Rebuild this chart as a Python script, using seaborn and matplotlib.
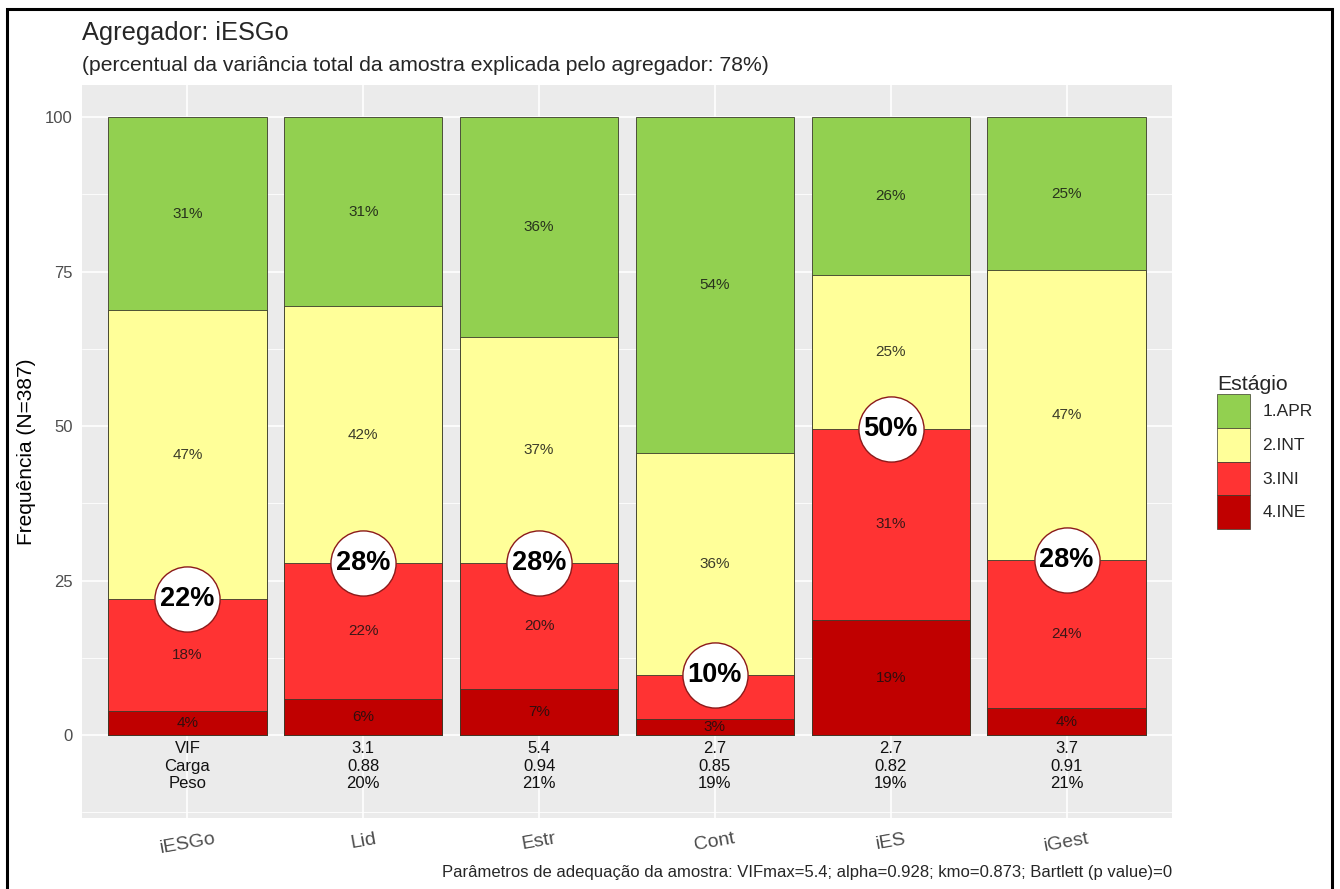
import numpy as np
import pandas as pd
import matplotlib
matplotlib.use("Agg")
import matplotlib.pyplot as plt
from matplotlib.patches import Patch, Rectangle
from matplotlib.ticker import FixedLocator
import seaborn as sns

# ---- data ----
categories = ["iESGo", "Lid", "Estr", "Cont", "iES", "iGest"]
stages = ["1.APR", "2.INT", "3.INI", "4.INE"]
ine = [3.9, 5.9, 7.4, 2.6, 18.6, 4.4]
ini = [18.1, 21.9, 20.4, 7.2, 31.0, 23.9]
inter = [46.8, 41.6, 36.6, 35.8, 24.8, 46.9]
apr = [31.2, 30.6, 35.6, 54.4, 25.6, 24.8]

vif = ["3.1", "5.4", "2.7", "2.7", "3.7"]
carga = ["0.88", "0.94", "0.85", "0.82", "0.91"]
peso = ["20%", "21%", "19%", "19%", "21%"]
row_names = ["VIF", "Carga", "Peso"]

title = "Agregador: iESGo"
subtitle = "(percentual da variância total da amostra explicada pelo agregador: 78%)"
caption = ("Parâmetros de adequação da amostra: VIFmax=5.4; alpha=0.928; "
           "kmo=0.873; Bartlett (p value)=0")
ylabel = "Frequência (N=387)"

colors = {"1.APR": "#92D050", "2.INT": "#FFFF99", "3.INI": "#FF3333", "4.INE": "#C00000"}

# ---- long table with stacked positions ----
seg = {"4.INE": ine, "3.INI": ini, "2.INT": inter, "1.APR": apr}
rows = []
for i, name in enumerate(categories):
    base = 0.0
    for st in ["4.INE", "3.INI", "2.INT", "1.APR"]:
        v = seg[st][i]
        rows.append(dict(agg=name, pos=i, stage=st, value=v, bottom=base, top=base + v))
        base += v
df = pd.DataFrame(rows)

sns.set_style("white")
plt.rcParams["font.family"] = ["Liberation Sans", "DejaVu Sans"]

fig = plt.figure(figsize=(13.4, 8.89), dpi=100)
W, H = 1340, 889
ax = fig.add_axes([82 / W, 1 - 818 / H, (1172 - 82) / W, (818 - 85) / H])
ax.set_facecolor("#EBEBEB")

# stacked bars: draw cumulative tops, tallest first
for st in ["1.APR", "2.INT", "3.INI", "4.INE"]:
    sub = df[df["stage"] == st]
    sns.barplot(data=sub, x="agg", y="top", order=categories, color=colors[st],
                saturation=1, width=0.9, edgecolor="#3a3a2a", linewidth=0.6,
                ax=ax, zorder=2, errorbar=None)

# segment percentage labels
for r in df.itertuples():
    ax.text(r.pos, (r.bottom + r.top) / 2, f"{round(r.value):.0f}%", ha="center",
            va="center", fontsize=11, color="#111111", alpha=0.82, zorder=3)

# highlighted cumulative share of INE + INI
for i in range(len(categories)):
    cum = ine[i] + ini[i]
    ax.scatter([i], [cum], s=2200, facecolor="white", edgecolor="#8B1A1A",
               linewidth=1.0, zorder=4)
    ax.text(i, cum, f"{round(cum):.0f}%", ha="center", va="center",
            fontsize=19.5, fontweight="bold", color="black", zorder=5)

# parameter table below the bars
row_y = [-2.1, -5.0, -7.8]
for j, name in enumerate(row_names):
    ax.text(0, row_y[j], name, ha="center", va="center", fontsize=12,
            color="#111111", zorder=3)
for i, (a, b, c) in enumerate(zip(vif, carga, peso), start=1):
    for j, val in enumerate((a, b, c)):
        ax.text(i, row_y[j], val, ha="center", va="center", fontsize=12,
                color="#111111", zorder=3)

# axes styling
ax.set_xlim(-0.6, len(categories) - 0.4)
ax.set_ylim(-13.4, 105.2)
ax.set_yticks([0, 25, 50, 75, 100])
ax.set_yticklabels(["0", "25", "50", "75", "100"])
ax.yaxis.set_minor_locator(FixedLocator([-12.5, 12.5, 37.5, 62.5, 87.5]))
ax.grid(axis="y", which="major", color="white", linewidth=1.2, zorder=0)
ax.grid(axis="y", which="minor", color="white", linewidth=0.6, zorder=0)
ax.grid(axis="x", which="major", color="white", linewidth=1.2, zorder=0)
ax.set_axisbelow(True)
for sp in ax.spines.values():
    sp.set_visible(False)
ax.tick_params(axis="both", which="major", length=4, width=1, color="#333333",
               labelcolor="#4D4D4D", labelsize=12, pad=2.5)
ax.tick_params(axis="y", which="minor", length=0)
ax.set_xticks(range(len(categories)))
ax.set_xticklabels(categories, rotation=10, ha="center", fontsize=14)
ax.tick_params(axis="x", pad=5)
ax.set_xlabel("")
ax.set_ylabel(ylabel, fontsize=15, color="black", labelpad=7)

# titles and caption
fig.text(82 / W, 1 - 40 / H, title, fontsize=18.3, va="baseline", ha="left")
fig.text(82 / W, 1 - 71 / H, subtitle, fontsize=15.2, va="baseline", ha="left")
fig.text(1172 / W, 1 - 873 / H, caption, fontsize=12, va="center", ha="right")

# legend
handles = [Patch(facecolor=colors[s], edgecolor="#3a3a2a", linewidth=0.5) for s in stages]
leg = fig.legend(handles, stages, title="Estágio", loc="upper left",
                 bbox_to_anchor=(1200 / W, 1 - 358 / H), frameon=False,
                 fontsize=12.5, title_fontsize=15.3, handlelength=1.9,
                 handleheight=2.6, labelspacing=0.0, handletextpad=0.7,
                 borderpad=0.5, alignment="left")

# outer frame
fig.patches.append(Rectangle((7 / W, -0.02), (1332 - 7) / W, 1.02 - 9 / H,
                             transform=fig.transFigure, fill=False,
                             edgecolor="black", linewidth=2.2))

fig.savefig("out.png", dpi=100)
